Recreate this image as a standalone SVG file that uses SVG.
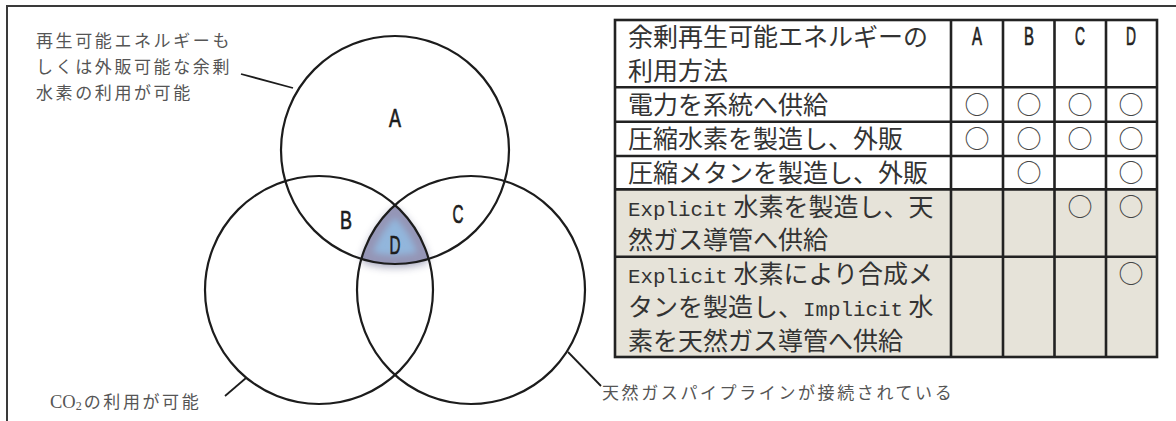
<svg xmlns="http://www.w3.org/2000/svg" width="1176" height="421" viewBox="0 0 1176 421">
<style>
.frame{fill:none;stroke:#3a3a3a;stroke-width:2}
.venn{fill:none;stroke:#1c1c1c;stroke-width:2.2}
.conn{fill:none;stroke:#1c1c1c;stroke-width:1.8}
.grid{fill:none;stroke:#222;stroke-width:2.6}
.letter{font-family:'Liberation Sans',Arial,sans-serif;font-size:26px;fill:#1c1c1c;stroke:#1c1c1c;stroke-width:0.7;text-anchor:middle}
.hdr{font-family:'Liberation Sans',Arial,sans-serif;font-size:25px;fill:#222;stroke:#222;stroke-width:0.7;text-anchor:middle}
.cell{font-family:'Noto Sans CJK JP','Noto Sans CJK SC',sans-serif;font-size:25px;fill:#333}
.mono{font-family:'Liberation Mono','Courier New',monospace;font-size:20.8px}
.mark{font-family:'Noto Sans CJK JP','Noto Sans CJK SC',sans-serif;font-size:25px;fill:#444;text-anchor:middle}
.note{font-family:'Noto Sans CJK JP','Noto Sans CJK SC',sans-serif;font-size:17px;fill:#555;letter-spacing:2.6px}
.serif{font-family:'Liberation Serif','Times New Roman',serif}
</style>
<defs>
<filter id="blur3" x="-50%" y="-50%" width="200%" height="200%"><feGaussianBlur stdDeviation="3"/></filter>
<filter id="blur4" x="-50%" y="-50%" width="200%" height="200%"><feGaussianBlur stdDeviation="4"/></filter>
<clipPath id="clipD"><path d="M395,205 A114,114 0 0,1 428.7,258.9 A114,114 0 0,1 361.3,258.9 A114,114 0 0,1 395,205 Z"/></clipPath>
</defs>
<rect width="1176" height="421" fill="#fff"/>
<g id="frame">
<path class="frame" d="M7,422 V6 H1176"/>
</g>
<g id="region-D">
<path d="M395,205 A114,114 0 0,1 428.7,258.9 A114,114 0 0,1 361.3,258.9 A114,114 0 0,1 395,205 Z" fill="#7a7b9c" opacity="0.7" filter="url(#blur4)" transform="translate(0,3)"/>
<path d="M395,205 A114,114 0 0,1 428.7,258.9 A114,114 0 0,1 361.3,258.9 A114,114 0 0,1 395,205 Z" fill="#92b6dc"/>
<g clip-path="url(#clipD)">
<path d="M395,205 A114,114 0 0,1 428.7,258.9 A114,114 0 0,1 361.3,258.9 A114,114 0 0,1 395,205 Z" fill="none" stroke="#9495b6" stroke-width="18" filter="url(#blur3)"/>
</g>
</g>
<g id="circle-A"><circle class="venn" cx="395" cy="150" r="114"/><text class="letter" x="395" y="127" textLength="12" lengthAdjust="spacingAndGlyphs">A</text></g>
<g id="circle-B"><circle class="venn" cx="319" cy="290" r="114"/><text class="letter" x="346" y="229" textLength="12" lengthAdjust="spacingAndGlyphs">B</text></g>
<g id="circle-C"><circle class="venn" cx="471" cy="290" r="114"/><text class="letter" x="458" y="223" textLength="11" lengthAdjust="spacingAndGlyphs">C</text></g>
<g id="label-D"><text class="letter" x="395" y="254" textLength="11" lengthAdjust="spacingAndGlyphs">D</text></g>
<g id="connectors">
<line class="conn" x1="241" y1="74" x2="293" y2="88"/>
<line class="conn" x1="225" y1="396" x2="246" y2="378"/>
<line class="conn" x1="568" y1="352" x2="601" y2="386"/>
</g>
<g id="note-A">
<text class="note" x="36" y="47">再生可能エネルギーも</text>
<text class="note" x="36" y="73">しくは外販可能な余剰</text>
<text class="note" x="36" y="99">水素の利用が可能</text>
</g>
<g id="note-B">
<text class="note" x="50" y="408"><tspan class="serif" font-size="18.5" letter-spacing="0">CO</tspan><tspan class="serif" font-size="12" dy="2" letter-spacing="0">2</tspan><tspan dy="-2" dx="2">の利用が可能</tspan></text>
</g>
<g id="note-C">
<text class="note" x="602" y="399" letter-spacing="1.8">天然ガスパイプラインが接続されている</text>
</g>
<g id="table">
<rect x="615" y="189.5" width="542" height="167.5" fill="#e6e3d9"/>
<rect class="grid" x="615" y="20" width="542" height="337"/>
<path class="grid" d="M615,87.3 H1157 M615,121.7 H1157 M615,156 H1157 M615,189.4 H1157 M615,256.7 H1157 M951,20 V357 M1003,20 V357 M1054.5,20 V357 M1106,20 V357"/>
<text class="hdr" x="977" y="45" textLength="10" lengthAdjust="spacingAndGlyphs">A</text>
<text class="hdr" x="1029" y="45" textLength="10" lengthAdjust="spacingAndGlyphs">B</text>
<text class="hdr" x="1080" y="45" textLength="10" lengthAdjust="spacingAndGlyphs">C</text>
<text class="hdr" x="1131" y="45" textLength="10" lengthAdjust="spacingAndGlyphs">D</text>
<text class="cell" x="628" y="46">余剰再生可能エネルギーの</text>
<text class="cell" x="628" y="79.5">利用方法</text>
<text class="cell" x="628" y="113.5">電力を系統へ供給</text>
<text class="cell" x="628" y="148">圧縮水素を製造し、外販</text>
<text class="cell" x="628" y="182">圧縮メタンを製造し、外販</text>
<text class="cell" x="628" y="215.5"><tspan class="mono">Explicit</tspan> 水素を製造し、天</text>
<text class="cell" x="628" y="249">然ガス導管へ供給</text>
<text class="cell" x="628" y="282.5"><tspan class="mono">Explicit</tspan> 水素により合成メ</text>
<text class="cell" x="628" y="316">タンを製造し、<tspan class="mono">Implicit</tspan> 水</text>
<text class="cell" x="628" y="349.5">素を天然ガス導管へ供給</text>
<text class="mark" x="977" y="113.5">○</text><text class="mark" x="1029" y="113.5">○</text><text class="mark" x="1080" y="113.5">○</text><text class="mark" x="1131" y="113.5">○</text>
<text class="mark" x="977" y="148">○</text><text class="mark" x="1029" y="148">○</text><text class="mark" x="1080" y="148">○</text><text class="mark" x="1131" y="148">○</text>
<text class="mark" x="1029" y="182">○</text><text class="mark" x="1131" y="182">○</text>
<text class="mark" x="1080" y="215.5">○</text><text class="mark" x="1131" y="215.5">○</text>
<text class="mark" x="1131" y="282.5">○</text>
</g>
</svg>
